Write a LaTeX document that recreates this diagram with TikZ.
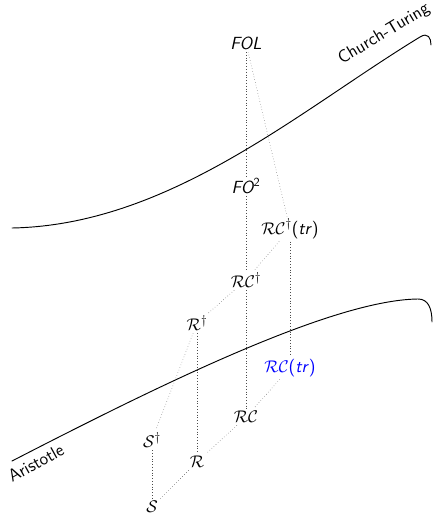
\documentclass[tikz,border=0pt]{standalone}
\usepackage{amsmath}
\usetikzlibrary{positioning}

\tikzset{
  lbl/.style={font=\fontsize{15}{18}\selectfont\sffamily, inner sep=2pt},
  link/.style={dotted, thin, black!70},
  border/.style={thick, line cap=round}
}

\begin{document}
\begin{tikzpicture}[x=0.03cm, y=-0.03cm]
  \useasboundingbox (0,0) rectangle (434,517);

  % Logics
  \node[lbl] (fol)  at (246,43)  {\itshape FOL};
  \node[lbl] (fo2)  at (246,186) {\itshape FO\textsuperscript{\upshape 2}};
  \node[lbl] (rcdt) at (290,229) {$\mathcal{RC}^{\dagger}$(\textit{tr})};
  \node[lbl] (rcd)  at (246,280) {$\mathcal{RC}^{\dagger}$};
  \node[lbl] (rd)   at (197,323) {$\mathcal{R}^{\dagger}$};
  \node[lbl, blue] (rct) at (290,368) {$\mathcal{RC}$(\textit{tr})};
  \node[lbl] (rc)   at (246,417) {$\mathcal{RC}$};
  \node[lbl] (sd)   at (152,440) {$\mathcal{S}^{\dagger}$};
  \node[lbl] (r)    at (197,462) {$\mathcal{R}$};
  \node[lbl] (s)    at (152,507) {$\mathcal{S}$};

  % Inclusions
  \draw[link] (fol) -- (fo2);
  \draw[link] (fol) -- (rcdt);
  \draw[link] (fo2) -- (rcd);
  \draw[link] (rcdt) -- (rcd);
  \draw[link] (rcdt) -- (rct);
  \draw[link] (rcd) -- (rd);
  \draw[link] (rcd) -- (rc);
  \draw[link] (rd) -- (sd);
  \draw[link] (rd) -- (r);
  \draw[link] (rct) -- (rc);
  \draw[link] (rc) -- (r);
  \draw[link] (r) -- (s);
  \draw[link] (sd) -- (s);

  % Boundaries
  \draw[border] (12,228) .. controls (170,225) and (300,110) .. (420,37)
                .. controls (428,32) and (431,38) .. (431,45);
  \draw[border] (12,461) .. controls (150,390) and (330,300) .. (418,299)
                .. controls (428,299) and (432,308) .. (432,322);

  \node[lbl, rotate=31] (ct) at (384,34) {Church-Turing};
  \node[lbl, rotate=29] (ar) at (36,463) {Aristotle};
\end{tikzpicture}
\end{document}
